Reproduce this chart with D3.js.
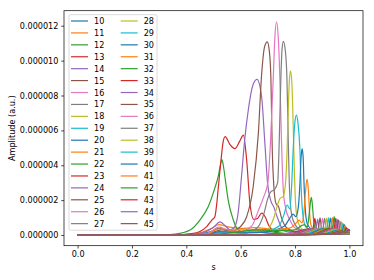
<!DOCTYPE html>
<html>
<head>
<meta charset="utf-8">
<script src="https://cdn.jsdelivr.net/npm/d3@7"></script>
<style>
    body { margin: 0; background: #fff; }
    svg { display: block; font-family: "DejaVu Sans", sans-serif; }
</style>
</head>
<body>
<svg id="chart"></svg>
<script>
// values in units of 1e-6 (a.u.), points are [s, amplitude]
const yUnit = 1e-6;

const seriesNames = ["10", "11", "12", "13", "14", "15", "16", "17", "18", "19",
    "20", "21", "22", "23", "24", "25", "26", "27", "28", "29",
    "30", "31", "32", "33", "34", "35", "36", "37", "38", "39",
    "40", "41", "42", "43", "44", "45"];

const colors = ["#1f77b4", "#ff7f0e", "#2ca02c", "#d62728", "#9467bd",
    "#8c564b", "#e377c2", "#7f7f7f", "#bcbd22", "#17becf"];

const xTicks = [0.0, 0.2, 0.4, 0.6, 0.8, 1.0];
const yTicks = [0, 2e-6, 4e-6, 6e-6, 8e-6, 10e-6, 12e-6];

const s10 = [[0,0],[0.35,0],[0.44,0.05],[0.49,0.2],[0.52,0.38],[0.55,0.25],[0.6,0.12],[0.65,0.18],[0.72,0.1],[0.8,0.06],[0.9,0.04],[1,0.03]];
const s11 = [[0,0],[0.35,0.01],[0.44,0.1],[0.49,0.35],[0.52,0.6],[0.55,0.48],[0.6,0.38],[0.65,0.42],[0.7,0.36],[0.76,0.25],[0.85,0.12],[0.92,0.08],[1,0.05]];
const s12 = [[0,0],[0.3,0.01],[0.36,0.06],[0.414,0.29],[0.45,0.86],[0.48,1.6],[0.505,2.7],[0.518,3.4],[0.525,4.0],[0.531,4.32],[0.537,3.9],[0.544,3.1],[0.554,2.0],[0.573,0.86],[0.59,0.3],[0.62,0.12],[0.65,0.3],[0.7,0.22],[0.76,0.1],[0.85,0.08],[1,0.04]];
const s13 = [[0,0],[0.35,0.01],[0.42,0.08],[0.45,0.2],[0.475,0.48],[0.494,0.86],[0.505,1.05],[0.512,1.8],[0.518,2.77],[0.527,4.2],[0.535,5.3],[0.543,5.64],[0.56,5.2],[0.579,4.95],[0.597,5.4],[0.61,5.73],[0.622,4.3],[0.634,1.82],[0.648,0.9],[0.662,0.95],[0.677,1.26],[0.69,1.05],[0.705,0.5],[0.73,0.2],[0.76,0.3],[0.8,0.2],[0.85,0.25],[0.9,0.1],[1,0.05]];
const s14 = [[0,0],[0.38,0.01],[0.45,0.1],[0.5,0.45],[0.524,0.75],[0.545,0.5],[0.56,0.3],[0.575,0.4],[0.59,1.2],[0.603,3.34],[0.615,5.5],[0.628,7.17],[0.645,8.6],[0.66,8.93],[0.677,7.93],[0.689,5.26],[0.699,2.96],[0.71,2.0],[0.722,1.6],[0.735,1.0],[0.756,0.3],[0.78,0.15],[0.82,0.25],[0.9,0.1],[1,0.05]];
const s15 = [[0,0],[0.4,0.01],[0.48,0.08],[0.53,0.3],[0.57,0.25],[0.6,0.5],[0.622,1.05],[0.646,2.77],[0.665,5.83],[0.677,9.2],[0.688,10.8],[0.698,11.08],[0.705,10.6],[0.711,9.08],[0.716,5.0],[0.722,2.8],[0.73,1.8],[0.74,1.6],[0.75,1.0],[0.77,0.4],[0.8,0.2],[0.85,0.15],[0.9,0.1],[1,0.05]];
const s16 = [[0,0],[0.4,0.01],[0.48,0.1],[0.52,0.45],[0.55,0.3],[0.6,0.2],[0.64,0.5],[0.665,1.4],[0.685,2.2],[0.7,3.0],[0.71,5.45],[0.72,9.08],[0.726,11.4],[0.732,12.23],[0.738,11.4],[0.744,9.08],[0.75,5.45],[0.757,2.5],[0.766,1.5],[0.78,0.9],[0.8,0.4],[0.84,0.2],[0.9,0.15],[1,0.08]];
const s17 = [[0,0],[0.42,0.01],[0.5,0.1],[0.55,0.2],[0.62,0.15],[0.66,0.4],[0.685,1.2],[0.7,2.1],[0.712,2.5],[0.724,2.6],[0.736,3.0],[0.742,5.45],[0.748,9.08],[0.752,10.6],[0.757,11.1],[0.764,10.6],[0.77,9.08],[0.775,5.45],[0.78,2.5],[0.787,1.2],[0.8,0.6],[0.82,0.3],[0.88,0.15],[1,0.08]];
const s18 = [[0,0],[0.45,0.01],[0.52,0.1],[0.58,0.12],[0.65,0.2],[0.7,0.35],[0.72,0.9],[0.735,1.7],[0.745,2.1],[0.756,2.2],[0.765,3.0],[0.771,5.0],[0.775,7.17],[0.779,8.8],[0.783,9.42],[0.788,8.8],[0.792,7.0],[0.797,4.0],[0.802,1.8],[0.81,0.8],[0.83,0.3],[0.88,0.15],[1,0.08]];
const s19 = [[0,0],[0.46,0.01],[0.52,0.12],[0.56,0.2],[0.62,0.15],[0.7,0.25],[0.74,0.5],[0.76,1.2],[0.771,1.72],[0.781,1.5],[0.788,3.0],[0.793,4.87],[0.799,6.4],[0.805,6.88],[0.811,6.4],[0.818,4.87],[0.823,2.5],[0.83,1.0],[0.84,0.45],[0.87,0.2],[1,0.08]];
const s20 = [[0,0],[0.47,0.01],[0.52,0.2],[0.56,0.15],[0.62,0.12],[0.7,0.2],[0.76,0.5],[0.782,1.0],[0.793,1.2],[0.803,1.05],[0.812,1.6],[0.818,2.96],[0.822,4.4],[0.826,4.95],[0.83,4.4],[0.833,2.96],[0.838,1.4],[0.846,0.6],[0.87,0.25],[1,0.1]];
const s21 = [[0,0],[0.47,0.01],[0.52,0.35],[0.56,0.3],[0.62,0.3],[0.7,0.3],[0.78,0.4],[0.805,0.7],[0.815,0.85],[0.825,0.7],[0.832,1.2],[0.838,2.4],[0.844,3.21],[0.849,2.6],[0.853,1.4],[0.858,0.6],[0.87,0.3],[0.9,0.2],[1,0.1]];
const s22 = [[0,0],[0.48,0.01],[0.55,0.1],[0.6,0.2],[0.66,0.3],[0.72,0.25],[0.8,0.3],[0.825,0.55],[0.835,0.6],[0.845,0.45],[0.852,1.2],[0.856,1.8],[0.86,2.16],[0.864,1.7],[0.868,0.9],[0.875,0.35],[0.9,0.2],[1,0.1]];
const s23 = [[0,0],[0.55,0],[0.78,0.08],[0.851,0.35],[0.862,0.2],[0.868,0.5],[0.873,0.96],[0.878,0.4],[0.885,0.12],[0.93,0.15],[1,0.08]];
const s24 = [[0,0],[0.56,0],[0.79,0.08],[0.861,0.35],[0.872,0.18],[0.878,0.45],[0.883,0.9],[0.888,0.36],[0.895,0.12],[0.94,0.15],[1,0.1]];
const s25 = [[0,0],[0.57,0],[0.8,0.08],[0.87,0.36],[0.881,0.18],[0.887,0.5],[0.892,0.98],[0.897,0.4],[0.904,0.12],[0.95,0.15],[1,0.12]];
const s26 = [[0,0],[0.58,0],[0.81,0.07],[0.879,0.36],[0.89,0.18],[0.896,0.48],[0.901,0.95],[0.906,0.38],[0.913,0.12],[0.955,0.15],[1,0.12]];
const s27 = [[0,0],[0.59,0],[0.82,0.07],[0.887,0.36],[0.898,0.18],[0.904,0.48],[0.909,0.95],[0.914,0.38],[0.921,0.12],[0.96,0.15],[1,0.14]];
const s28 = [[0,0],[0.6,0],[0.83,0.07],[0.895,0.37],[0.906,0.18],[0.912,0.48],[0.917,0.97],[0.922,0.38],[0.929,0.13],[0.965,0.15],[1,0.14]];
const s29 = [[0,0],[0.61,0],[0.84,0.07],[0.902,0.38],[0.913,0.18],[0.919,0.5],[0.924,0.98],[0.929,0.4],[0.936,0.13],[0.97,0.16],[1,0.15]];
const s30 = [[0,0],[0.62,0],[0.85,0.07],[0.909,0.38],[0.92,0.18],[0.926,0.5],[0.931,0.97],[0.936,0.4],[0.943,0.13],[0.975,0.16],[1,0.16]];
const s31 = [[0,0],[0.63,0],[0.86,0.07],[0.917,0.38],[0.927,0.18],[0.933,0.5],[0.938,1.0],[0.943,0.4],[0.95,0.13],[0.98,0.18],[1,0.18]];
const s32 = [[0,0],[0.64,0],[0.87,0.07],[0.923,0.38],[0.933,0.18],[0.939,0.52],[0.944,1.05],[0.949,0.42],[0.956,0.14],[0.98,0.18],[1,0.2]];
const s33 = [[0,0],[0.65,0],[0.875,0.07],[0.93,0.37],[0.94,0.18],[0.945,0.48],[0.95,0.95],[0.955,0.38],[0.962,0.14],[0.985,0.2],[1,0.2]];
const s34 = [[0,0],[0.66,0],[0.88,0.07],[0.935,0.36],[0.945,0.18],[0.95,0.45],[0.955,0.9],[0.96,0.36],[0.967,0.14],[0.985,0.2],[1,0.22]];
const s35 = [[0,0],[0.67,0],[0.885,0.07],[0.94,0.35],[0.95,0.18],[0.955,0.42],[0.96,0.85],[0.965,0.35],[0.972,0.15],[0.99,0.22],[1,0.22]];
const s36 = [[0,0],[0.68,0],[0.89,0.07],[0.945,0.34],[0.955,0.18],[0.96,0.4],[0.965,0.8],[0.97,0.34],[0.977,0.16],[0.99,0.22],[1,0.24]];
const s37 = [[0,0],[0.69,0],[0.895,0.07],[0.95,0.33],[0.959,0.18],[0.964,0.38],[0.969,0.75],[0.974,0.33],[0.981,0.18],[1,0.25]];
const s38 = [[0,0],[0.7,0],[0.9,0.07],[0.954,0.32],[0.963,0.18],[0.968,0.36],[0.973,0.7],[0.978,0.32],[0.985,0.2],[1,0.25]];
const s39 = [[0,0],[0.71,0],[0.905,0.07],[0.958,0.3],[0.967,0.18],[0.972,0.34],[0.977,0.65],[0.982,0.3],[0.989,0.2],[1,0.26]];
const s40 = [[0,0],[0.72,0],[0.91,0.06],[0.962,0.28],[0.971,0.17],[0.976,0.32],[0.981,0.6],[0.986,0.3],[0.993,0.2],[1,0.27]];
const s41 = [[0,0],[0.73,0],[0.915,0.06],[0.966,0.26],[0.974,0.16],[0.979,0.3],[0.984,0.52],[0.989,0.3],[0.995,0.22],[1,0.28]];
const s42 = [[0,0],[0.74,0],[0.92,0.06],[0.969,0.24],[0.977,0.16],[0.982,0.28],[0.987,0.46],[0.992,0.28],[1,0.3]];
const s43 = [[0,0],[0.75,0],[0.925,0.06],[0.972,0.22],[0.98,0.15],[0.985,0.25],[0.99,0.4],[0.995,0.28],[1,0.3]];
const s44 = [[0,0],[0.76,0],[0.93,0.05],[0.975,0.2],[0.983,0.14],[0.988,0.22],[0.993,0.35],[1,0.28]];
const s45 = [[0,0],[0.77,0],[0.935,0.05],[0.978,0.18],[0.986,0.13],[0.991,0.2],[0.996,0.3],[1,0.27]];

const seriesValues = [s10, s11, s12, s13, s14, s15, s16, s17, s18, s19,
    s20, s21, s22, s23, s24, s25, s26, s27, s28, s29,
    s30, s31, s32, s33, s34, s35, s36, s37, s38, s39,
    s40, s41, s42, s43, s44, s45];

(function () {
    const width = 374, height = 280;
    const left = 64, right = 363, top = 10.7, bottom = 245.7;
    const fontSize = 8.1;

    const svg = d3.select("#chart")
        .attr("width", width)
        .attr("height", height);

    const x = d3.scaleLinear().domain([-0.05, 1.05]).range([left, right]);
    const y = d3.scaleLinear().domain([-0.6125e-6, 12.8625e-6]).range([bottom, top]);

    svg.append("defs").append("clipPath").attr("id", "plotClip")
        .append("rect")
        .attr("x", left).attr("y", top)
        .attr("width", right - left).attr("height", bottom - top);

    const line = d3.line()
        .x(d => x(d[0]))
        .y(d => y(d[1] * yUnit))
        .curve(d3.curveMonotoneX);

    const plot = svg.append("g").attr("clip-path", "url(#plotClip)");
    seriesValues.forEach(function (pts, i) {
        plot.append("path")
            .datum(pts)
            .attr("d", line)
            .attr("fill", "none")
            .attr("stroke", colors[i % 10])
            .attr("stroke-width", 1.2)
            .attr("stroke-linejoin", "round")
            .attr("stroke-linecap", "square");
    });

    // axes
    const xAxis = d3.axisBottom(x)
        .tickValues(xTicks)
        .tickFormat(d3.format(".1f"))
        .tickSize(2.8)
        .tickPadding(2.8);
    const yAxis = d3.axisLeft(y)
        .tickValues(yTicks)
        .tickFormat(d => d.toFixed(6))
        .tickSize(2.8)
        .tickPadding(2.8);

    const gx = svg.append("g").attr("transform", `translate(0,${bottom})`).call(xAxis);
    const gy = svg.append("g").attr("transform", `translate(${left},0)`).call(yAxis);
    [gx, gy].forEach(g => {
        g.select(".domain").remove();
        g.selectAll(".tick line").attr("stroke", "#000").attr("stroke-width", 0.7);
        g.selectAll(".tick text")
            .attr("fill", "#000")
            .style("font-family", "DejaVu Sans")
            .style("font-size", fontSize + "px");
    });

    svg.append("rect")
        .attr("x", left).attr("y", top)
        .attr("width", right - left).attr("height", bottom - top)
        .attr("fill", "none")
        .attr("stroke", "#000")
        .attr("stroke-width", 0.7);

    svg.append("text")
        .attr("x", (left + right) / 2)
        .attr("y", 269.5)
        .attr("text-anchor", "middle")
        .style("font-size", fontSize + "px")
        .text("s");

    svg.append("text")
        .attr("transform", `translate(15,${(top + bottom) / 2}) rotate(-90)`)
        .attr("text-anchor", "middle")
        .style("font-size", fontSize + "px")
        .text("Amplitude (a.u.)");

    // legend, two columns
    const legend = svg.append("g");
    legend.append("rect")
        .attr("x", 69).attr("y", 14.7)
        .attr("width", 88).attr("height", 215.5)
        .attr("rx", 1.6)
        .attr("fill", "#fff").attr("fill-opacity", 0.8)
        .attr("stroke", "#cccccc").attr("stroke-width", 0.7);

    const perCol = 18;
    const rowGap = 11.92;
    const colX = [71, 120.7];
    seriesNames.forEach(function (name, i) {
        const col = Math.floor(i / perCol);
        const row = i % perCol;
        const cy = 21 + row * rowGap;
        const hx = colX[col];
        legend.append("line")
            .attr("x1", hx).attr("x2", hx + 17)
            .attr("y1", cy).attr("y2", cy)
            .attr("stroke", colors[i % 10])
            .attr("stroke-width", 1.2);
        legend.append("text")
            .attr("x", hx + 23)
            .attr("y", cy + 3)
            .style("font-size", fontSize + "px")
            .text(name);
    });
})();
</script>
</body>
</html>
